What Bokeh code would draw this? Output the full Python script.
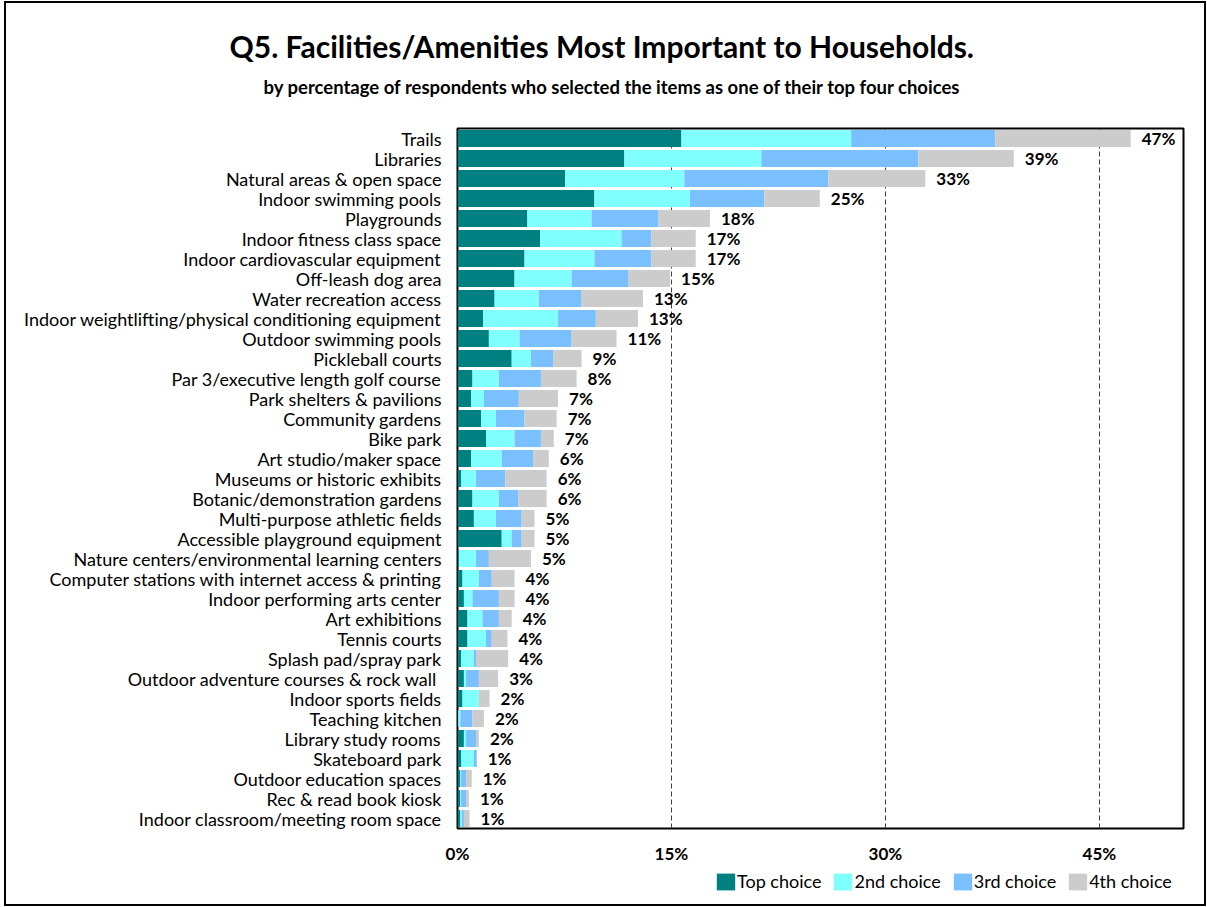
from bokeh.plotting import figure
from bokeh.layouts import column
from bokeh.models import (ColumnDataSource, FactorRange, Range1d, Legend, LegendItem,
                          Title, FixedTicker, LabelSet)
from bokeh.embed import file_html
from bokeh.resources import INLINE
from bokeh.core.properties import value

categories = [
    "Trails", "Libraries", "Natural areas & open space", "Indoor swimming pools",
    "Playgrounds", "Indoor fitness class space", "Indoor cardiovascular equipment",
    "Off-leash dog area", "Water recreation access",
    "Indoor weightlifting/physical conditioning equipment", "Outdoor swimming pools",
    "Pickleball courts", "Par 3/executive length golf course", "Park shelters & pavilions",
    "Community gardens", "Bike park", "Art studio/maker space", "Museums or historic exhibits",
    "Botanic/demonstration gardens", "Multi-purpose athletic fields",
    "Accessible playground equipment", "Nature centers/environmental learning centers",
    "Computer stations with internet access & printing", "Indoor performing arts center",
    "Art exhibitions", "Tennis courts", "Splash pad/spray park",
    "Outdoor adventure courses & rock wall ", "Indoor sports fields", "Teaching kitchen",
    "Library study rooms", "Skateboard park", "Outdoor education spaces",
    "Rec & read book kiosk", "Indoor classroom/meeting room space",
]
top_choice = [15.7, 11.7, 7.55, 9.6, 4.9, 5.8, 4.7, 4.0, 2.6, 1.8, 2.2, 3.8, 1.05, 0.95,
              1.65, 2.0, 0.95, 0.25, 1.05, 1.15, 3.1, 0.1, 0.35, 0.45, 0.7, 0.7, 0.25,
              0.45, 0.35, 0.05, 0.45, 0.25, 0.2, 0.2, 0.2]
second_choice = [11.9, 9.6, 8.35, 6.7, 4.5, 5.7, 4.9, 4.0, 3.1, 5.25, 2.15, 1.35, 1.85, 0.9,
                 1.05, 2.0, 2.15, 1.05, 1.85, 1.55, 0.7, 1.2, 1.15, 0.6, 1.05, 1.3, 0.9,
                 0.15, 1.15, 0.15, 0.15, 0.9, 0.05, 0.05, 0.1]
third_choice = [10.1, 11.0, 10.1, 5.2, 4.7, 2.1, 4.0, 4.0, 3.0, 2.65, 3.65, 1.55, 2.95, 2.45,
                2.0, 1.85, 2.2, 2.05, 1.35, 1.8, 0.7, 0.9, 0.9, 1.85, 1.15, 0.4, 0.15,
                0.9, 0.0, 0.85, 0.7, 0.2, 0.35, 0.35, 0.15]
fourth_choice = [9.5, 6.7, 6.8, 3.9, 3.6, 3.1, 3.1, 2.9, 4.3, 2.95, 3.15, 2.0, 2.5, 2.75,
                 2.25, 0.9, 1.1, 2.9, 2.0, 0.9, 0.9, 2.95, 1.6, 1.1, 0.9, 1.1, 2.25,
                 1.35, 0.75, 0.8, 0.2, 0.0, 0.4, 0.2, 0.4]
total_labels = ["47%", "39%", "33%", "25%", "18%", "17%", "17%", "15%", "13%", "13%", "11%",
                "9%", "8%", "7%", "7%", "7%", "6%", "6%", "6%", "5%", "5%", "5%", "4%", "4%",
                "4%", "4%", "4%", "3%", "2%", "2%", "2%", "1%", "1%", "1%", "1%"]
series_names = ["Top choice", "2nd choice", "3rd choice", "4th choice"]
x_ticks = [0, 15, 30, 45]
x_tick_labels = ["0%", "15%", "30%", "45%"]
title_text = "Q5. Facilities/Amenities Most Important to Households."
subtitle_text = "by percentage of respondents who selected the items as one of their top four choices"

colors = ["#008080", "#80FFFF", "#7AC0FF", "#CCCCCC"]
FONT = "Lato"
W = 1207

# ---- main chart ----
totals = [a + b + c + d for a, b, c, d in zip(top_choice, second_choice, third_choice, fourth_choice)]
src = ColumnDataSource(dict(cat=categories, s1=top_choice, s2=second_choice, s3=third_choice,
                            s4=fourth_choice, total=totals, lab=total_labels))

fig = figure(width=W, height=866, y_range=FactorRange(factors=categories[::-1]),
             x_range=Range1d(0, 50.9), output_backend="svg", toolbar_location=None,
             title=None, min_border_left=457, min_border_right=24, min_border_top=128,
             min_border_bottom=36)

fig.hbar_stack(["s1", "s2", "s3", "s4"], y="cat", height=0.86, color=colors,
               line_width=0, source=src)

fig.add_layout(LabelSet(x="total", y="cat", text="lab", source=src, x_offset=11,
                        text_baseline="middle", text_font=value(FONT), text_font_size="17px",
                        text_font_style="bold", text_color="black"))

fig.outline_line_color = "black"
fig.outline_line_width = 2
fig.background_fill_color = "white"
fig.border_fill_color = "white"

fig.xgrid.ticker = FixedTicker(ticks=[15, 30, 45])
fig.xgrid.grid_line_color = "#404040"
fig.xgrid.grid_line_dash = "5 3"
fig.xgrid.grid_line_width = 1
fig.ygrid.grid_line_color = None

fig.xaxis.ticker = FixedTicker(ticks=x_ticks)
fig.xaxis.major_label_overrides = dict(zip(x_ticks, x_tick_labels))
fig.xaxis.axis_line_color = None
fig.xaxis.major_tick_line_color = None
fig.xaxis.minor_tick_line_color = None
fig.xaxis.major_label_text_font = FONT
fig.xaxis.major_label_text_font_size = "17px"
fig.xaxis.major_label_text_font_style = "bold"
fig.xaxis.major_label_text_color = "black"
fig.xaxis.major_label_standoff = 8

fig.yaxis.axis_line_color = None
fig.yaxis.major_tick_line_color = None
fig.yaxis.minor_tick_line_color = None
fig.yaxis.major_label_text_font = FONT
fig.yaxis.major_label_text_font_size = "18px"
fig.yaxis.major_label_text_color = "black"
fig.yaxis.major_label_standoff = 10

# titles stacked above the frame (first added = closest to the frame)
fig.add_layout(Title(text=" ", text_font=FONT, text_font_size="1px", standoff=20), "above")
fig.add_layout(Title(text=subtitle_text, align="left", offset=-194, standoff=16,
                     text_font=FONT, text_font_size="18.5px", text_font_style="bold",
                     text_color="black"), "above")
fig.add_layout(Title(text=title_text, align="left", offset=-228, standoff=4,
                     text_font=FONT, text_font_size="30px", text_font_style="bold",
                     text_color="black"), "above")

# ---- legend block ----
foot = figure(width=W, height=907 - 866, x_range=Range1d(0, 1), y_range=Range1d(0, 1),
              output_backend="svg", toolbar_location=None, title=None,
              x_axis_location=None, y_axis_location=None,
              min_border_left=457, min_border_right=24, min_border_top=0, min_border_bottom=0)
foot.grid.visible = False
foot.outline_line_color = None
foot.background_fill_color = "white"
foot.border_fill_color = "white"
swatches = [foot.hbar(y=[0], left=[0], right=[0], height=0, color=c, line_width=0)
            for c in colors]
legend = Legend(items=[LegendItem(label=n, renderers=[r]) for n, r in zip(series_names, swatches)],
                orientation="horizontal", location=(257, 15), border_line_color=None,
                background_fill_alpha=0, padding=0, margin=0, spacing=10, glyph_width=23,
                glyph_height=21, label_standoff=0, label_text_font=FONT,
                label_text_font_size="18px", label_text_color="black", label_height=17)
foot.add_layout(legend, "center")

border_css = (":host { position: relative; } "
              ":host::after { content: ''; position: absolute; left: 4px; top: 1px; "
              "width: 1202px; height: 905px; box-sizing: border-box; "
              "border: 2px solid black; pointer-events: none; z-index: 100; }")
p = column(fig, foot, spacing=0, stylesheets=[border_css])

open("out.html", "w").write(file_html(p, INLINE))
